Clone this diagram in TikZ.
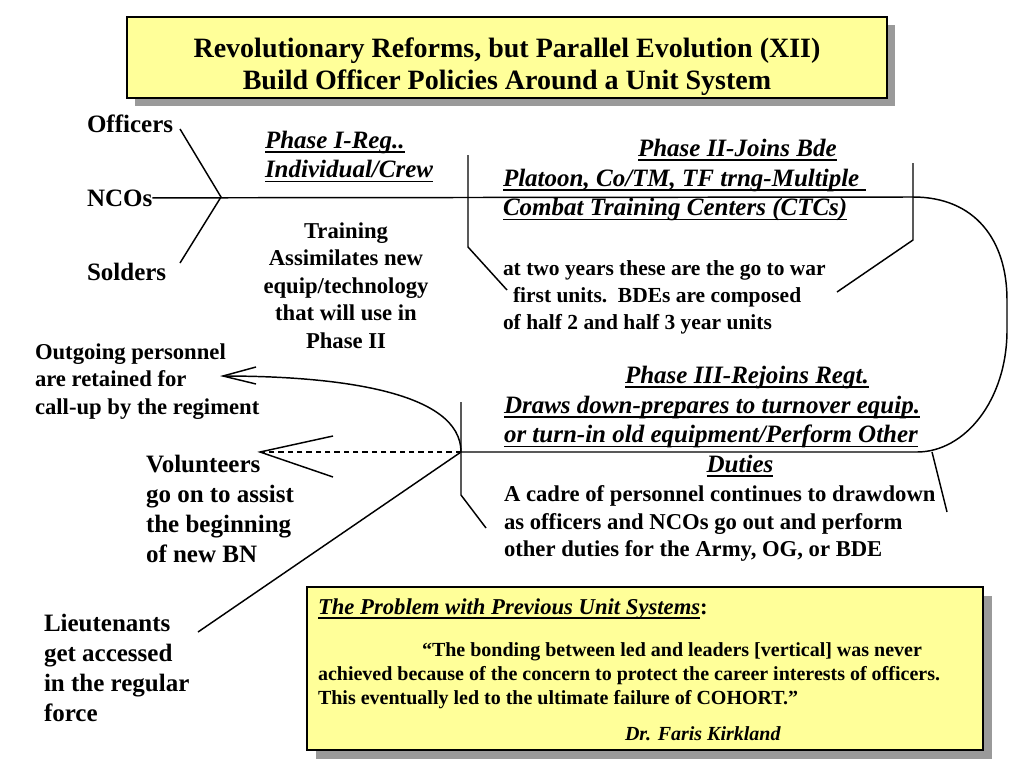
\documentclass[tikz,border=0pt]{standalone}
\usepackage{fontspec}
\setmainfont{Liberation Serif}
\usetikzlibrary{arrows.meta}
\definecolor{boxyellow}{HTML}{FFFF99}
\definecolor{shadowgray}{HTML}{9A9A9A}
\newsavebox\ulbox
\newcommand\myul[1]{\sbox\ulbox{#1}\rlap{\rule[-3.4pt]{\wd\ulbox}{1.2pt}}\usebox\ulbox}
\tikzset{
  every node/.style={inner sep=0pt, outer sep=0pt},
  lbl/.style={font=\fontsize{18.75}{22.5}\selectfont\bfseries, align=left},
  body/.style={font=\fontsize{17}{20.6}\selectfont\bfseries, align=left},
  ptwo/.style={font=\fontsize{16.1}{20.25}\selectfont\bfseries, align=left},
  head/.style={font=\fontsize{18.75}{22.2}\selectfont\bfseries\itshape, align=left},
  ttl/.style={font=\fontsize{21}{24}\selectfont\bfseries, align=center},
  qt/.style={font=\fontsize{15}{18}\selectfont\bfseries, align=left},
  ln/.style={line width=1.1pt, black},
  dashln/.style={line width=1.1pt, black, dash pattern=on 4pt off 3pt},
  yellowbox/.style={fill=boxyellow, draw=black, line width=1.1pt},
  shadowfill/.style={fill=shadowgray}
}
\begin{document}
\begin{tikzpicture}[x=0.75pt,y=-0.75pt]
\fill[white] (0,0) rectangle (1024,768);
\useasboundingbox (0,0) rectangle (1024,768);

% title box
\fill[shadowfill] (135,25) rectangle (895,106);
\draw[yellowbox] (127,17) rectangle (887,98);
\node[ttl, anchor=north] (title) at (507,37.7) {Revolutionary Reforms, but Parallel Evolution (XII)\\Build Officer Policies Around a Unit System};

% left labels
\node[lbl, anchor=base west] (officers) at (87,132) {Officers};
\node[lbl, anchor=base west] (ncos) at (87,206) {NCOs};
\node[lbl, anchor=base west] (solders) at (87,280) {Solders};

% phase I
\node[head, anchor=north west] (ph1) at (265,131) {\myul{Phase I-Reg..}\\\myul{Individual/Crew}};
\node[body, align=center, anchor=north] (train) at (346,222.5) {Training\\Assimilates new\\equip/technology\\that will use in\\Phase II};

% phase II
\node[head, anchor=base west] (ph2t) at (638,156) {\myul{Phase II-Joins Bde}};
\node[head, anchor=north west] (ph2) at (503,169) {\myul{Platoon, Co/TM, TF trng-Multiple\ }\\\myul{Combat Training Centers (CTCs)}};
\node[ptwo, anchor=north west] (ph2txt) at (503,260.4) {at two years these are the go to war\\\hspace*{7.5pt}first units.\ \ BDEs are composed\\of half 2 and half 3 year units};

% outgoing
\node[body, anchor=north west] (outgoing) at (35,343.5) {Outgoing personnel\\are retained for\\call-up by the regiment};

% phase III
\node[head, anchor=base west] (ph3t) at (625,383) {\myul{Phase III-Rejoins Regt.}};
\node[head, anchor=north west] (ph3) at (504,396) {\myul{Draws down-prepares to turnover equip.}\\\myul{or turn-in old equipment/Perform Other}};
\node[head, anchor=base] (duties) at (740,472) {\myul{Duties}};
\node[body, anchor=north west] (cadre) at (504,485.6) {A cadre of personnel continues to drawdown\\as officers and NCOs go out and perform\\other duties for the Army, OG, or BDE};

% volunteers, lieutenants
\node[lbl, anchor=north west] (vol) at (146,455) {Volunteers\\go on to assist\\the beginning\\of new BN};
\node[lbl, anchor=north west] (lt) at (44,614) {Lieutenants\\get accessed\\in the regular\\force};

% bottom box
\fill[shadowfill] (316,596) rectangle (992,759);
\draw[yellowbox] (307,587) rectangle (983,750);
\node[font=\fontsize{17}{20}\selectfont\bfseries\itshape, anchor=base west] (probhead) at (318,614) {\myul{The Problem with Previous Unit Systems}\upshape:};
\node[qt, anchor=north west] (quote) at (318,642.4) {\hspace*{78pt}“The bonding between led and leaders [vertical] was never\\achieved because of the concern to protect the career interests of officers.\\This eventually led to the ultimate failure of COHORT.”};
\node[font=\fontsize{15}{18}\selectfont\bfseries\itshape, anchor=base west] (author) at (625,740) {Dr. Faris Kirkland};

% coordinates
\coordinate (fork) at (221,197);
\coordinate (offEnd) at (180,129);
\coordinate (solEnd) at (180,263);
\coordinate (p2top) at (913,197);
\coordinate (p3right) at (917,452);
\coordinate (junc) at (461,452);
\coordinate (d1a) at (468,155);
\coordinate (d1b) at (468,247);
\coordinate (d1c) at (507,290);
\coordinate (d2a) at (913,163);
\coordinate (d2b) at (913,240);
\coordinate (d2c) at (837,292);
\coordinate (d3a) at (461,402);
\coordinate (d3b) at (461,495);
\coordinate (d3c) at (486,528);
\coordinate (d4a) at (932,452);
\coordinate (d4b) at (947,512);
\coordinate (outTip) at (223,376);
\coordinate (outArmA) at (256,367);
\coordinate (outArmB) at (256,384);
\coordinate (volTip) at (260,452);
\coordinate (volArmA) at (333,436);
\coordinate (volArmB) at (333,477);
\coordinate (ltEnd) at (198,632);

% lines
\draw[ln] (offEnd) -- (fork) -- (solEnd);
\draw[ln] (ncos.east) -- (p2top);
\draw[ln] (p2top) .. controls (975,197) and (1007,240) .. (1007,300) -- (1007,330) .. controls (1007,400) and (965,452) .. (p3right) -- (junc);
\draw[ln] (d1a) -- (d1b) -- (d1c);
\draw[ln] (d2a) -- (d2b) -- (d2c);
\draw[ln] (d3a) -- (d3b) -- (d3c);
\draw[ln] (d4a) -- (d4b);
\draw[ln] (junc) .. controls (461,392) and (340,376) .. (outTip);
\draw[ln] (outArmA) -- (outTip) -- (outArmB);
\draw[dashln] (junc) -- (volTip);
\draw[ln] (volArmA) -- (volTip) -- (volArmB);
\draw[ln] (junc) -- (ltEnd);
\end{tikzpicture}
\end{document}
